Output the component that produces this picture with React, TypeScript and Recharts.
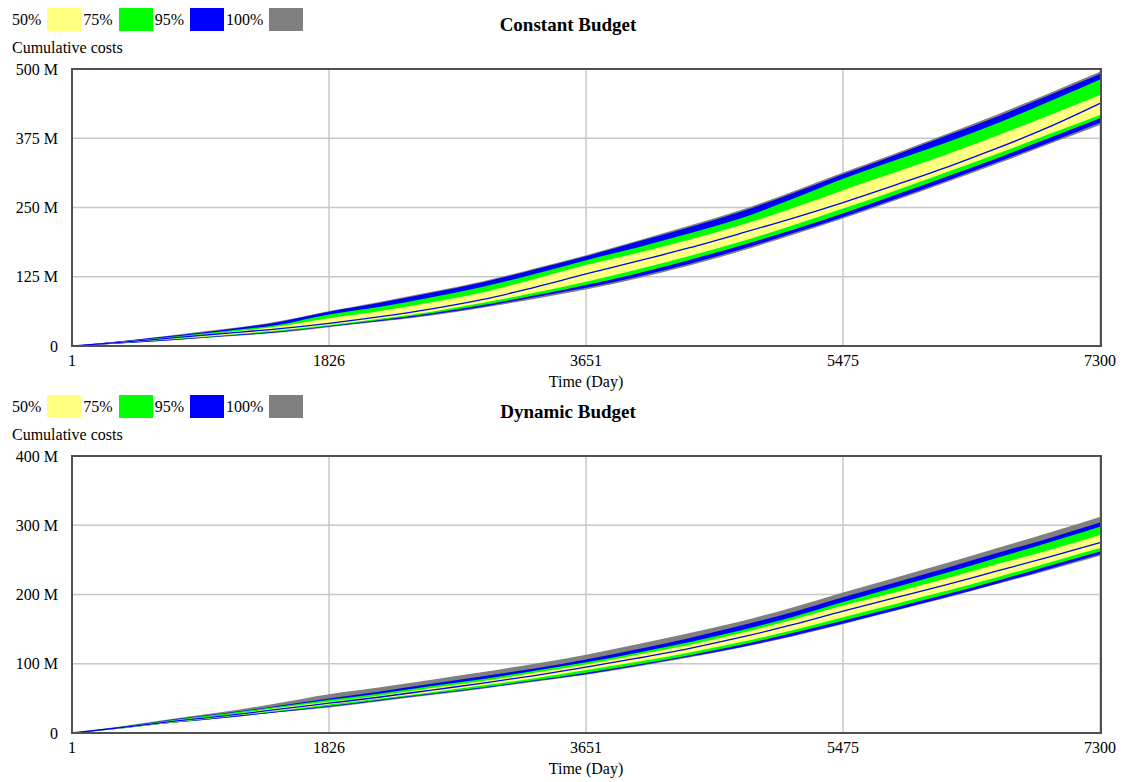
import { ComposedChart, Area, Line, XAxis, YAxis, CartesianGrid } from 'recharts';

// sample days (x axis)
const days = [1, 365, 730, 1095, 1460, 1826, 2190, 2555, 2920, 3285, 3651, 4015, 4380, 4745, 5110, 5475, 5840, 6205, 6570, 6935, 7300];
const xTicks = [1, 1826, 3651, 5475, 7300];

// Constant Budget, cumulative costs in millions
const constLo100 = [0, 5, 11, 17, 24, 34, 44, 55, 69, 85, 102, 122, 145, 171, 200, 230, 262, 295, 329, 364, 399];
const constLo95 = [0, 5, 11, 18, 25, 35, 45, 57, 71, 88, 105, 125, 148, 174, 203, 233, 265, 298, 332, 367, 403];
const constLo75 = [0, 6, 12, 19, 26, 36, 47, 59, 74, 91, 110, 131, 155, 181, 209, 239, 272, 305, 339, 375, 411];
const constLo50 = [0, 6, 13, 20, 28, 38, 49, 62, 78, 96, 116, 138, 162, 188, 217, 248, 280, 313, 347, 382, 417];
const constMedian = [0, 7, 15, 23, 31, 41, 53, 67, 84, 106, 130, 153, 177, 203, 230, 259, 290, 322, 357, 395, 438];
const constHi50 = [0, 8, 16, 25, 35, 50, 63, 79, 97, 121, 146, 168, 192, 218, 248, 281, 313, 345, 380, 416, 453];
const constHi75 = [0, 8, 17, 27, 38, 57, 71, 88, 107, 130, 155, 178, 203, 230, 265, 302, 335, 367, 402, 441, 481];
const constHi95 = [0, 9, 19, 30, 43, 62, 78, 96, 115, 138, 162, 188, 214, 242, 275, 310, 344, 379, 414, 452, 491];
const constHi100 = [0, 9, 20, 31, 44, 63, 80, 98, 117, 140, 164, 190, 217, 245, 278, 313, 347, 382, 418, 456, 495];

// Dynamic Budget, cumulative costs in millions
const dynLo100 = [0, 7, 15, 22, 30, 37, 46, 55, 64, 74, 84, 96, 109, 123, 139, 157, 176, 195, 215, 235, 256];
const dynLo95 = [0, 7, 15, 22, 30, 38, 47, 56, 65, 75, 85, 97, 110, 124, 140, 158, 177, 196, 216, 237, 258];
const dynLo75 = [0, 7, 15, 23, 31, 39, 48, 57, 66, 76, 87, 99, 112, 127, 144, 162, 181, 200, 220, 241, 262];
const dynLo50 = [0, 7, 16, 24, 32, 41, 50, 59, 69, 79, 91, 103, 116, 131, 148, 167, 186, 205, 225, 246, 267];
const dynMedian = [0, 8, 17, 25, 34, 43, 52, 62, 72, 83, 95, 108, 122, 138, 156, 176, 195, 214, 234, 254, 275];
const dynHi50 = [0, 8, 18, 26, 36, 45, 54, 65, 75, 87, 99, 113, 127, 144, 163, 184, 203, 223, 244, 264, 286];
const dynHi75 = [0, 9, 19, 28, 38, 48, 57, 68, 78, 90, 102, 116, 131, 148, 167, 189, 210, 231, 253, 275, 298];
const dynHi95 = [0, 9, 20, 29, 39, 50, 60, 71, 82, 93, 106, 121, 137, 155, 174, 196, 217, 238, 260, 281, 304];
const dynHi100 = [0, 10, 21, 31, 43, 56, 66, 77, 88, 100, 113, 128, 144, 161, 181, 203, 224, 245, 267, 289, 312];

const constTicks = [0, 125, 250, 375, 500];
const dynTicks = [0, 100, 200, 300, 400];

const legendItems = [
  { label: '50%', color: '#ffff80' },
  { label: '75%', color: '#00ff00' },
  { label: '95%', color: '#0000ff' },
  { label: '100%', color: '#808080' },
];

const FONT = "'Liberation Serif', 'Times New Roman', serif";

function buildRows(lo100: number[], lo95: number[], lo75: number[], lo50: number[], med: number[], hi50: number[], hi75: number[], hi95: number[], hi100: number[]) {
  return days.map((day, i) => ({
    day,
    b100: [lo100[i], hi100[i]],
    b95: [lo95[i], hi95[i]],
    b75: [lo75[i], hi75[i]],
    b50: [lo50[i], hi50[i]],
    median: med[i],
  }));
}

const constRows = buildRows(constLo100, constLo95, constLo75, constLo50, constMedian, constHi50, constHi75, constHi95, constHi100);
const dynRows = buildRows(dynLo100, dynLo95, dynLo75, dynLo50, dynMedian, dynHi50, dynHi75, dynHi95, dynHi100);

function Legend() {
  return (
    <div style={{ position: 'absolute', left: 12, top: 8, height: 23, display: 'flex', alignItems: 'center', fontSize: 16 }}>
      {legendItems.map((it) => (
        <div key={it.label} style={{ display: 'flex', alignItems: 'center' }}>
          <span>{it.label}</span>
          <span style={{ display: 'inline-block', width: 34, height: 23, background: it.color, marginLeft: 6, marginRight: 2 }} />
        </div>
      ))}
    </div>
  );
}

function Panel({ top, title, rows, ticks }: { top: number; title: string; rows: any[]; ticks: number[] }) {
  const tickStyle = { fill: '#000', fontSize: 16, fontFamily: FONT };
  return (
    <div style={{ position: 'absolute', left: 0, top, width: 1130, height: 387 }}>
      <ComposedChart width={1130} height={387} data={rows} margin={{ top: 69, right: 30, bottom: 11, left: 10 }}>
        <CartesianGrid stroke="#c8c8c8" strokeWidth={1.5} verticalValues={xTicks} horizontalValues={ticks} />
        <XAxis
          dataKey="day"
          type="number"
          domain={[1, 7300]}
          ticks={xTicks}
          height={30}
          axisLine={false}
          tickLine={false}
          tickSize={0}
          tickMargin={9}
          tick={tickStyle}
          interval={0}
        />
        <YAxis
          type="number"
          domain={[0, ticks[ticks.length - 1]]}
          ticks={ticks}
          width={62}
          axisLine={false}
          tickLine={false}
          tickSize={0}
          tickMargin={14}
          tick={tickStyle}
          interval={0}
          tickFormatter={(v: number) => (v === 0 ? '0' : `${v} M`)}
        />
        <Area dataKey="b100" type="monotone" stroke="none" fill="#808080" fillOpacity={1} isAnimationActive={false} />
        <Area dataKey="b95" type="monotone" stroke="none" fill="#0000ff" fillOpacity={1} isAnimationActive={false} />
        <Area dataKey="b75" type="monotone" stroke="none" fill="#00ff00" fillOpacity={1} isAnimationActive={false} />
        <Area dataKey="b50" type="monotone" stroke="none" fill="#ffff80" fillOpacity={1} isAnimationActive={false} />
        <Line dataKey="median" type="monotone" stroke="#0000ff" strokeWidth={1.3} dot={false} isAnimationActive={false} />
      </ComposedChart>
      {/* plot frame */}
      <div style={{ position: 'absolute', left: 71, top: 68, width: 1031, height: 279, boxSizing: 'border-box', border: '2px solid #505050', pointerEvents: 'none' }} />
      <Legend />
      <div style={{ position: 'absolute', left: 418, top: 14, width: 300, textAlign: 'center', fontSize: 19, fontWeight: 'bold', lineHeight: '22px' }}>{title}</div>
      <div style={{ position: 'absolute', left: 12, top: 38, fontSize: 16, lineHeight: '20px' }}>Cumulative costs</div>
      <div style={{ position: 'absolute', left: 486, top: 372, width: 200, textAlign: 'center', fontSize: 16, lineHeight: '20px' }}>Time (Day)</div>
    </div>
  );
}

export default function App() {
  return (
    <div style={{ position: 'absolute', left: 0, top: 0, width: 1130, height: 782, background: '#fff', fontFamily: FONT, color: '#000' }}>
      <Panel top={0} title="Constant Budget" rows={constRows} ticks={constTicks} />
      <Panel top={387} title="Dynamic Budget" rows={dynRows} ticks={dynTicks} />
    </div>
  );
}
